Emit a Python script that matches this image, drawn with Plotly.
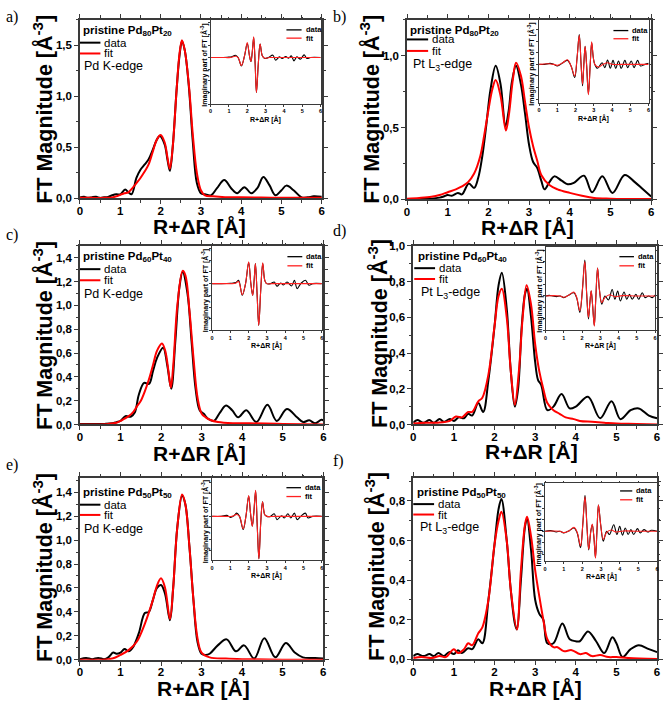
import plotly.graph_objects as go

# ---------------- DATA ----------------
x_ticks = [0, 1, 2, 3, 4, 5, 6]

# (a) pristine Pd80Pt20, Pd K-edge
a_data_x = [0, 0.1, 0.2, 0.3, 0.4, 0.5, 0.6, 0.7, 0.8, 0.9, 1.0, 1.12, 1.2, 1.28, 1.4, 1.5, 1.6, 1.7, 1.8, 1.9,
            1.98, 2.1, 2.17, 2.23, 2.3, 2.4, 2.47, 2.53, 2.6, 2.7, 2.8, 2.9, 3.0, 3.1, 3.25, 3.4, 3.58, 3.75, 3.9, 4.08,
            4.25, 4.4, 4.55, 4.7, 4.85, 5.0, 5.12, 5.3, 5.5, 5.65, 5.8, 6.0]
a_data_y = [0.01, 0.015, 0.005, 0.012, 0.015, 0.005, 0.01, 0.015, 0.03, 0.04, 0.04, 0.087, 0.06, 0.04, 0.2, 0.28, 0.33, 0.38, 0.47, 0.57,
            0.61, 0.53, 0.38, 0.27, 0.5, 1.08, 1.4, 1.54, 1.45, 1.1, 0.55, 0.15, 0.05, 0.04, 0.03, 0.1, 0.18, 0.1, 0.05, 0.11,
            0.05, 0.1, 0.21, 0.13, 0.03, 0.08, 0.125, 0.08, 0.01, 0.01, 0.02, 0.015]
a_fit_x = [0, 0.3, 0.6, 0.8, 0.9, 1.0, 1.1, 1.2, 1.3, 1.4, 1.5, 1.6, 1.7, 1.8, 1.9, 2.0, 2.1, 2.17, 2.23, 2.3,
           2.4, 2.47, 2.53, 2.6, 2.7, 2.8, 2.9, 3.0, 3.1, 3.3, 3.6, 4.0, 4.5, 5.0, 5.5, 6.0]
a_fit_y = [0.005, 0.005, 0.005, 0.01, 0.02, 0.035, 0.05, 0.06, 0.1, 0.15, 0.2, 0.26, 0.33, 0.45, 0.57, 0.62, 0.55, 0.4, 0.29, 0.5,
           1.08, 1.42, 1.55, 1.45, 1.12, 0.62, 0.25, 0.08, 0.03, 0.02, 0.012, 0.01, 0.008, 0.006, 0.005, 0.005]
a_im_data_x = [0, 0.5, 0.9, 1.15, 1.35, 1.5, 1.68, 1.85, 2.0, 2.12, 2.2, 2.27, 2.35, 2.43, 2.5, 2.6, 2.7, 2.82, 2.95, 3.15,
               3.4, 3.55, 3.75, 3.9, 4.1, 4.25, 4.4, 4.55, 4.7, 4.9, 5.1, 5.25, 5.45, 6.0]
a_im_data_y = [0, 0, 0.01, 0.02, 0.07, 0.0, -0.25, 0.05, 0.42, 0.05, -0.12, 0.15, 0.6, -0.2, -1.05, -0.2, 0.4, 0.05, -0.03, 0.0,
               0.07, -0.08, 0.02, -0.03, 0.03, -0.02, 0.05, -0.1, 0.02, -0.05, 0.08, -0.03, 0.0, 0.0]
a_im_fit_x = [0, 0.8, 1.1, 1.35, 1.5, 1.68, 1.85, 2.0, 2.12, 2.2, 2.27, 2.35, 2.43, 2.5, 2.6, 2.7, 2.82, 2.95, 3.2, 3.6, 4.5, 6.0]
a_im_fit_y = [0, 0, 0.0, 0.04, 0.0, -0.24, 0.05, 0.45, 0.05, -0.12, 0.15, 0.62, -0.2, -1.05, -0.2, 0.4, 0.05, -0.02, 0.0, 0.0, 0.0, 0.0]
a_yticks = [0.0, 0.5, 1.0, 1.5]

# (b) pristine Pd80Pt20, Pt L3-edge
b_data_x = [0, 0.3, 0.6, 0.8, 0.9, 1.0, 1.1, 1.25, 1.35, 1.52, 1.65, 1.75, 1.85, 1.95, 2.05, 2.18, 2.3, 2.42, 2.5, 2.58,
            2.68, 2.8, 2.9, 3.0, 3.1, 3.2, 3.3, 3.38, 3.5, 3.62, 3.8, 3.95, 4.1, 4.35, 4.55, 4.8, 5.05, 5.35, 5.6, 5.8, 6.0]
b_data_y = [0.0, 0.003, 0.005, 0.012, 0.02, 0.03, 0.025, 0.045, 0.035, 0.11, 0.08, 0.15, 0.3, 0.52, 0.76, 0.93, 0.8, 0.51, 0.62, 0.82,
            0.93, 0.8, 0.6, 0.38, 0.26, 0.22, 0.13, 0.07, 0.12, 0.16, 0.13, 0.105, 0.115, 0.165, 0.05, 0.16, 0.045, 0.17, 0.12, 0.07, 0.02]
b_fit_x = [0, 0.3, 0.6, 0.8, 1.0, 1.2, 1.35, 1.5, 1.65, 1.8, 1.9, 2.0, 2.1, 2.18, 2.3, 2.43, 2.5, 2.6, 2.68, 2.8,
           2.9, 3.0, 3.1, 3.2, 3.3, 3.5, 3.7, 4.0, 4.3, 4.6, 5.0, 5.5, 6.0]
b_fit_y = [0.005, 0.01, 0.018, 0.03, 0.05, 0.07, 0.09, 0.12, 0.18, 0.3, 0.45, 0.62, 0.77, 0.83, 0.72, 0.48, 0.58, 0.83, 0.95, 0.86,
           0.68, 0.5, 0.37, 0.27, 0.17, 0.1, 0.07, 0.045, 0.025, 0.01, 0.005, 0.003, 0.002]
b_im_data_x = [0, 0.3, 0.6, 0.8, 1.0, 1.3, 1.55, 1.75, 1.95, 2.08, 2.2, 2.3, 2.38, 2.45, 2.52, 2.6, 2.7, 2.8, 2.88, 2.97,
               3.05, 3.2, 3.45, 3.6, 3.75, 3.9, 4.05, 4.2, 4.35, 4.5, 4.7, 4.85, 5.05, 5.2, 5.4, 5.55, 5.8, 6.0]
b_im_data_y = [0, 0.0, 0.03, 0.0, -0.05, 0.05, 0.12, -0.05, -0.4, 0.2, 0.9, 0.0, -0.65, 0.0, 0.55, 0.0, -0.9, 0.0, 0.65, 0.2,
               0.0, -0.12, 0.05, -0.1, 0.13, -0.12, 0.12, -0.12, 0.1, -0.12, 0.12, -0.1, 0.1, -0.1, 0.12, -0.05, 0.0, 0.03]
b_im_fit_x = [0, 0.5, 0.8, 1.0, 1.3, 1.55, 1.75, 1.95, 2.08, 2.2, 2.3, 2.38, 2.45, 2.52, 2.6, 2.7, 2.8, 2.88, 2.97, 3.05,
              3.25, 3.5, 3.75, 4.0, 4.5, 5.0, 6.0]
b_im_fit_y = [0, 0.02, 0.0, -0.03, 0.05, 0.14, -0.05, -0.35, 0.2, 0.88, 0.0, -0.6, 0.0, 0.55, 0.0, -0.92, 0.0, 0.68, 0.2, 0.0,
              -0.08, 0.0, 0.05, 0.0, 0.0, 0.0, 0.0]
b_yticks = [0.0, 0.5, 1.0]

# (c) pristine Pd60Pt40, Pd K-edge
c_data_x = [0, 0.3, 0.6, 0.8, 0.9, 1.0, 1.12, 1.25, 1.35, 1.45, 1.58, 1.7, 1.8, 1.9, 2.05, 2.15, 2.25, 2.35, 2.45, 2.53,
            2.65, 2.75, 2.85, 2.95, 3.05, 3.15, 3.3, 3.45, 3.6, 3.75, 3.9, 4.1, 4.35, 4.62, 4.85, 5.1, 5.35, 5.5, 5.65, 5.8,
            5.95, 6.0]
c_data_y = [0.005, 0.003, 0.005, 0.01, 0.02, 0.03, 0.07, 0.065, 0.1, 0.25, 0.35, 0.34, 0.45, 0.56, 0.645, 0.5, 0.3, 0.7, 1.15, 1.28,
            1.1, 0.7, 0.3, 0.12, 0.09, 0.05, 0.03, 0.1, 0.16, 0.12, 0.06, 0.12, 0.02, 0.165, 0.03, 0.13, 0.06, 0.02, 0.035, 0.01,
            0.04, 0.035]
c_fit_x = [0, 0.4, 0.7, 0.9, 1.0, 1.1, 1.2, 1.3, 1.4, 1.5, 1.6, 1.7, 1.8, 1.9, 2.02, 2.1, 2.18, 2.24, 2.3, 2.4,
           2.53, 2.6, 2.7, 2.8, 2.9, 3.0, 3.1, 3.2, 3.4, 3.8, 4.2, 5.0, 6.0]
c_fit_y = [0.0, 0.0, 0.005, 0.015, 0.03, 0.05, 0.07, 0.1, 0.15, 0.2, 0.28, 0.38, 0.5, 0.62, 0.68, 0.62, 0.45, 0.31, 0.5, 1.0,
           1.29, 1.25, 0.95, 0.55, 0.22, 0.09, 0.06, 0.04, 0.02, 0.01, 0.01, 0.005, 0.0]
c_im_data_x = [0, 0.5, 1.0, 1.3, 1.45, 1.65, 1.83, 2.0, 2.12, 2.22, 2.3, 2.37, 2.46, 2.55, 2.66, 2.77, 2.88, 2.98, 3.2, 3.4,
               3.55, 3.75, 3.9, 4.1, 4.35, 4.5, 4.65, 4.85, 5.1, 5.3, 5.5, 6.0]
c_im_data_y = [0, 0, 0.01, 0.03, 0.1, -0.35, 0.0, 0.63, 0.0, -0.35, 0.1, 0.6, -0.3, -1.25, -0.2, 0.6, 0.1, 0.0, 0.0, 0.05,
               -0.08, 0.02, -0.04, 0.05, -0.07, 0.1, -0.15, 0.0, 0.1, -0.05, 0.0, 0.0]
c_im_fit_x = [0, 0.8, 1.1, 1.3, 1.45, 1.65, 1.83, 2.0, 2.12, 2.22, 2.3, 2.37, 2.46, 2.55, 2.66, 2.77, 2.88, 2.98, 3.3, 4.0,
              5.0, 6.0]
c_im_fit_y = [0, 0, 0.0, 0.02, 0.06, -0.33, 0.0, 0.65, 0.0, -0.35, 0.1, 0.6, -0.3, -1.25, -0.2, 0.62, 0.1, 0.0, 0.0, 0.0,
              0, 0]
c_yticks = [0.0, 0.2, 0.4, 0.6, 0.8, 1.0, 1.2, 1.4]

# (d) pristine Pd60Pt40, Pt L3-edge
d_data_x = [0, 0.1, 0.25, 0.4, 0.5, 0.65, 0.75, 0.9, 1.0, 1.12, 1.25, 1.35, 1.45, 1.6, 1.72, 1.85, 2.0, 2.1, 2.18, 2.3,
            2.4, 2.5, 2.58, 2.67, 2.75, 2.8, 2.9, 3.0, 3.07, 3.15, 3.3, 3.45, 3.65, 3.85, 4.0, 4.3, 4.6, 4.88, 5.1, 5.35,
            5.55, 5.8, 6.0]
d_data_y = [0.01, 0.025, 0.01, 0.025, 0.01, 0.03, 0.015, 0.03, 0.02, 0.04, 0.035, 0.06, 0.05, 0.12, 0.07, 0.25, 0.55, 0.78, 0.85, 0.65,
            0.3, 0.1, 0.2, 0.55, 0.73, 0.76, 0.6, 0.35, 0.25, 0.22, 0.08, 0.1, 0.17, 0.09, 0.1, 0.155, 0.035, 0.13, 0.03, 0.08,
            0.09, 0.05, 0.035]
d_fit_x = [0, 0.3, 0.6, 0.9, 1.05, 1.2, 1.35, 1.45, 1.6, 1.7, 1.85, 2.0, 2.1, 2.18, 2.3, 2.4, 2.5, 2.6, 2.7, 2.79,
           2.9, 3.0, 3.1, 3.2, 3.3, 3.45, 3.6, 3.75, 3.95, 4.1, 4.4, 4.7, 5.0, 5.5, 6.0]
d_fit_y = [0.005, 0.01, 0.01, 0.02, 0.045, 0.04, 0.07, 0.07, 0.13, 0.15, 0.28, 0.55, 0.72, 0.76, 0.6, 0.3, 0.11, 0.3, 0.62, 0.78,
           0.67, 0.45, 0.3, 0.2, 0.12, 0.08, 0.06, 0.04, 0.03, 0.02, 0.015, 0.01, 0.005, 0.003, 0.0]
d_im_data_x = [0, 0.2, 0.4, 0.6, 0.8, 1.0, 1.25, 1.55, 1.7, 1.88, 2.02, 2.15, 2.25, 2.35, 2.43, 2.5, 2.58, 2.67, 2.75, 2.85,
               2.95, 3.08, 3.25, 3.45, 3.65, 3.8, 3.95, 4.1, 4.3, 4.45, 4.6, 4.75, 4.95, 5.1, 5.3, 5.45, 5.65, 5.85, 6.0]
d_im_data_y = [0, 0.02, 0.0, -0.02, 0.0, -0.05, 0.02, 0.1, -0.05, -0.5, 0.2, 1.1, 0.1, -0.7, -0.2, 0.15, -0.3, -0.9, -0.1, 0.85,
               0.2, -0.25, 0.0, -0.12, 0.2, -0.1, 0.15, -0.15, 0.12, -0.1, 0.05, -0.1, 0.05, -0.1, 0.1, -0.05, 0.0, -0.05, 0.03]
d_im_fit_x = [0, 0.4, 0.8, 1.0, 1.25, 1.55, 1.7, 1.88, 2.02, 2.15, 2.25, 2.35, 2.43, 2.5, 2.58, 2.67, 2.75, 2.85, 2.95, 3.08,
              3.25, 3.5, 3.8, 4.2, 5.0, 6.0]
d_im_fit_y = [0, 0.01, 0.0, -0.04, 0.02, 0.12, -0.03, -0.45, 0.2, 1.05, 0.1, -0.65, -0.2, 0.17, -0.3, -0.92, -0.1, 0.85, 0.2, -0.2,
              -0.05, 0.04, -0.02, 0.01, 0, 0]
d_yticks = [0.0, 0.2, 0.4, 0.6, 0.8, 1.0]

# (e) pristine Pd50Pt50, Pd K-edge
e_data_x = [0, 0.15, 0.3, 0.45, 0.6, 0.7, 0.82, 0.9, 1.0, 1.1, 1.2, 1.3, 1.45, 1.6, 1.7, 1.8, 1.9, 2.0, 2.1, 2.22,
            2.3, 2.4, 2.52, 2.6, 2.7, 2.8, 2.9, 3.0, 3.1, 3.2, 3.4, 3.62, 3.85, 4.05, 4.3, 4.55, 4.82, 5.08, 5.3, 5.5,
            5.8, 6.0]
e_data_y = [0.005, 0.015, 0.005, 0.015, 0.005, 0.02, 0.06, 0.05, 0.06, 0.09, 0.07, 0.1, 0.22, 0.39, 0.4, 0.5, 0.6, 0.625, 0.55, 0.33,
            0.6, 1.1, 1.37, 1.3, 0.95, 0.5, 0.15, 0.05, 0.04, 0.05, 0.12, 0.17, 0.07, 0.12, 0.01, 0.18, 0.02, 0.14, 0.06, 0.02,
            0.015, 0.01]
e_fit_x = [0, 0.5, 0.8, 1.0, 1.2, 1.4, 1.6, 1.8, 1.9, 2.0, 2.1, 2.22, 2.3, 2.4, 2.52, 2.6, 2.7, 2.8, 2.9, 3.0,
           3.2, 3.6, 4.0, 5.0, 6.0]
e_fit_y = [0.0, 0.0, 0.01, 0.04, 0.08, 0.15, 0.3, 0.5, 0.62, 0.68, 0.6, 0.34, 0.6, 1.1, 1.38, 1.3, 0.95, 0.5, 0.18, 0.06,
           0.02, 0.01, 0.005, 0.0, 0.0]
e_im_data_x = [0, 0.5, 0.8, 1.0, 1.2, 1.35, 1.5, 1.7, 1.85, 2.0, 2.1, 2.2, 2.28, 2.38, 2.47, 2.56, 2.66, 2.76, 2.88, 3.0,
               3.2, 3.4, 3.55, 3.8, 3.95, 4.15, 4.3, 4.5, 4.65, 4.85, 5.1, 5.25, 5.5, 6.0]
e_im_data_y = [0, 0, 0.03, -0.03, 0.02, 0.1, 0.0, -0.4, 0.0, 0.62, 0.1, -0.3, 0.1, 0.78, -0.3, -1.3, -0.2, 0.45, 0.05, 0.0,
               0.0, 0.08, -0.1, 0.02, -0.05, 0.08, -0.05, 0.1, -0.1, 0.0, 0.1, -0.05, 0.0, 0.0]
e_im_fit_x = [0, 0.8, 1.1, 1.35, 1.5, 1.7, 1.85, 2.0, 2.1, 2.2, 2.28, 2.38, 2.47, 2.56, 2.66, 2.76, 2.88, 3.0, 3.4, 4.0,
              5.0, 6.0]
e_im_fit_y = [0, 0, 0.0, 0.06, 0.0, -0.38, 0.0, 0.64, 0.1, -0.3, 0.1, 0.8, -0.3, -1.3, -0.2, 0.45, 0.05, 0.0, 0, 0,
              0, 0]
e_yticks = [0.0, 0.2, 0.4, 0.6, 0.8, 1.0, 1.2, 1.4]

# (f) pristine Pd50Pt50, Pt L3-edge
f_data_x = [0, 0.1, 0.25, 0.4, 0.5, 0.62, 0.75, 0.88, 1.0, 1.1, 1.2, 1.35, 1.45, 1.6, 1.7, 1.85, 2.0, 2.1, 2.17, 2.3,
            2.4, 2.5, 2.55, 2.65, 2.75, 2.8, 2.9, 3.0, 3.1, 3.2, 3.3, 3.45, 3.67, 3.85, 4.0, 4.1, 4.3, 4.5, 4.7, 4.9,
            5.0, 5.15, 5.35, 5.55, 5.8, 6.0]
f_data_y = [0.015, 0.025, 0.015, 0.025, 0.015, 0.03, 0.015, 0.035, 0.025, 0.045, 0.03, 0.055, 0.05, 0.1, 0.08, 0.3, 0.58, 0.76, 0.81, 0.6,
            0.35, 0.18, 0.15, 0.4, 0.67, 0.71, 0.55, 0.3, 0.23, 0.2, 0.08, 0.08, 0.18, 0.1, 0.09, 0.09, 0.14, 0.09, 0.03, 0.11,
            0.08, 0.01, 0.05, 0.07, 0.05, 0.035]
f_fit_x = [0, 0.2, 0.45, 0.65, 0.8, 1.0, 1.1, 1.25, 1.35, 1.45, 1.6, 1.7, 1.85, 2.0, 2.1, 2.17, 2.3, 2.4, 2.55, 2.65,
           2.75, 2.8, 2.9, 3.0, 3.1, 3.2, 3.3, 3.45, 3.55, 3.7, 3.9, 4.1, 4.25, 4.4, 4.6, 4.8, 5.0, 5.3, 6.0]
f_fit_y = [0.005, 0.01, 0.005, 0.015, 0.01, 0.05, 0.03, 0.05, 0.08, 0.07, 0.13, 0.16, 0.3, 0.58, 0.7, 0.745, 0.6, 0.35, 0.15, 0.45,
           0.68, 0.72, 0.62, 0.45, 0.32, 0.2, 0.1, 0.06, 0.06, 0.04, 0.045, 0.025, 0.03, 0.015, 0.02, 0.01, 0.01, 0.005, 0.0]
f_im_data_x = [0, 0.3, 0.6, 0.8, 1.0, 1.3, 1.55, 1.72, 1.9, 2.02, 2.14, 2.25, 2.34, 2.45, 2.53, 2.62, 2.7, 2.78, 2.86, 2.98,
               3.12, 3.3, 3.45, 3.68, 3.85, 4.0, 4.15, 4.3, 4.45, 4.6, 4.75, 4.95, 5.1, 5.3, 5.5, 5.7, 6.0]
f_im_data_y = [0, 0.02, -0.02, 0.0, -0.05, 0.02, 0.1, -0.05, -0.5, 0.2, 1.1, 0.1, -0.57, 0.0, 0.2, -0.2, -0.8, 0.0, 0.8, 0.2,
               -0.3, 0.0, -0.1, 0.2, -0.1, 0.15, -0.12, 0.1, -0.1, 0.05, -0.1, 0.08, -0.05, 0.05, -0.02, 0.03, 0.0]
f_im_fit_x = [0, 0.4, 0.8, 1.0, 1.3, 1.55, 1.72, 1.9, 2.02, 2.14, 2.25, 2.34, 2.45, 2.53, 2.62, 2.7, 2.78, 2.86, 2.98, 3.12,
              3.3, 3.55, 3.8, 4.2, 5.0, 6.0]
f_im_fit_y = [0, 0.01, 0.0, -0.04, 0.02, 0.12, -0.03, -0.45, 0.2, 1.05, 0.1, -0.55, 0.0, 0.22, -0.2, -0.82, 0.0, 0.8, 0.2, -0.25,
              -0.03, 0.04, -0.02, 0.01, 0, 0]
f_yticks = [0.0, 0.2, 0.4, 0.6, 0.8]

panel_letters = ["a)", "b)", "c)", "d)", "e)", "f)"]
sample_names = ["pristine Pd<sub>80</sub>Pt<sub>20</sub>", "pristine Pd<sub>80</sub>Pt<sub>20</sub>",
                "pristine Pd<sub>60</sub>Pt<sub>40</sub>", "pristine Pd<sub>60</sub>Pt<sub>40</sub>",
                "pristine Pd<sub>50</sub>Pt<sub>50</sub>", "pristine Pd<sub>50</sub>Pt<sub>50</sub>"]
edge_names = ["Pd K-edge", "Pt L<sub>3</sub>-edge", "Pd K-edge", "Pt L<sub>3</sub>-edge",
              "Pd K-edge", "Pt L<sub>3</sub>-edge"]
series_names = ["data", "fit"]
main_x_title = "R+ΔR [Å]"
main_y_title = "FT Magnitude [Å<sup>-3</sup>]"
inset_y_title = "Imaginary part of FT [Å<sup>-3</sup>]"

# ---------------- LAYOUT / STYLE ----------------
W, H = 665, 708
def px(x): return x / W
def py(y): return 1 - y / H

panels = [
    dict(d=(a_data_x, a_data_y), f=(a_fit_x, a_fit_y), di=(a_im_data_x, a_im_data_y), fi=(a_im_fit_x, a_im_fit_y),
         yt=a_yticks, yr=[0, 1.75], ym=0.25, iyr=[-1.4, 1.13],
         box=(77.7, 14, 321.7, 195.7), ibox=(209.5, 14, 320.5, 100),
         lab=(1, 11), ytl=(41, 105), xtl=(198, 224), iyl=203.5,
         leg=(79, 25, 37.3, 48.3, 61, 77.7, 98.3), ileg=(286, 301.3, 24.3, 32.7)),
    dict(d=(b_data_x, b_data_y), f=(b_fit_x, b_fit_y), di=(b_im_data_x, b_im_data_y), fi=(b_im_fit_x, b_im_fit_y),
         yt=b_yticks, yr=[0, 1.25], ym=0.25, iyr=[-1.18, 1.35],
         box=(407.7, 14, 654, 196.7), ibox=(541, 14, 651.5, 99),
         lab=(331, 11), ytl=(371, 105), xtl=(529, 225), iyl=533,
         leg=(409, 25, 34, 45.7, 60, 407.7, 429), ileg=(616, 631, 25, 33.3)),
    dict(d=(c_data_x, c_data_y), f=(c_fit_x, c_fit_y), di=(c_im_data_x, c_im_data_y), fi=(c_im_fit_x, c_im_fit_y),
         yt=c_yticks, yr=[0, 1.5], ym=0.1, iyr=[-1.4, 1.13],
         box=(77.7, 244, 323.3, 425.7), ibox=(211, 244, 321.7, 330),
         lab=(1, 233), ytl=(41, 335), xtl=(198, 455), iyl=204,
         leg=(79, 255, 267.7, 279, 293.3, 77.7, 98.3), ileg=(287, 302, 255, 264.3)),
    dict(d=(d_data_x, d_data_y), f=(d_fit_x, d_fit_y), di=(d_im_data_x, d_im_data_y), fi=(d_im_fit_x, d_im_fit_y),
         yt=d_yticks, yr=[0, 1.0], ym=0.1, iyr=[-1.05, 1.5],
         box=(414, 244, 660, 425.7), ibox=(547.5, 245, 658, 330),
         lab=(331, 229), ytl=(379, 333), xtl=(533.5, 453), iyl=541,
         leg=(417, 255, 266.7, 277.7, 291.7, 415, 436), ileg=(622, 636.7, 255, 264.3)),
    dict(d=(e_data_x, e_data_y), f=(e_fit_x, e_fit_y), di=(e_im_data_x, e_im_data_y), fi=(e_im_fit_x, e_im_fit_y),
         yt=e_yticks, yr=[0, 1.52], ym=0.1, iyr=[-1.35, 1.18],
         box=(77.7, 480, 323, 665), ibox=(211, 480, 321.7, 564),
         lab=(1, 467), ytl=(41, 571), xtl=(202, 694), iyl=204,
         leg=(79, 495.7, 507.3, 517.7, 531.7, 77.7, 98.3), ileg=(286, 300.7, 490, 499)),
    dict(d=(f_data_x, f_data_y), f=(f_fit_x, f_fit_y), di=(f_im_data_x, f_im_data_y), fi=(f_im_fit_x, f_im_fit_y),
         yt=f_yticks, yr=[0, 0.917], ym=0.1, iyr=[-0.92, 1.46],
         box=(414, 480, 660, 664.3), ibox=(547, 485.7, 660, 565),
         lab=(331, 463), ytl=(376, 570), xtl=(537, 694), iyl=540,
         leg=(416, 495, 506.7, 517.3, 531, 414, 435), ileg=(622.7, 635, 493.3, 502.3)),
]

AX = '#3a3a3a'
FONT = 'Liberation Sans, Arial, sans-serif'
fig = go.Figure()
layout = dict(width=W, height=H, margin=dict(l=0, r=0, t=0, b=0), autosize=False,
              paper_bgcolor='white', plot_bgcolor='white', showlegend=False, separators=',.',
              font=dict(family=FONT, color='black'))
annotations, shapes = [], []

for i, p in enumerate(panels):
    mi, ii = 2 * i + 1, 2 * i + 2
    mx = 'x' if mi == 1 else f'x{mi}'
    my = 'y' if mi == 1 else f'y{mi}'
    ix, iy = f'x{ii}', f'y{ii}'
    x0, y0, x1, y1 = p['box']
    layout['xaxis' if mi == 1 else f'xaxis{mi}'] = dict(
        domain=[px(x0), px(x1)], anchor=my, range=[0, 6], tickvals=x_ticks, ticktext=[str(t) for t in x_ticks],
        showline=True, linecolor=AX, linewidth=1.6, mirror='ticks', ticks='outside', ticklen=4, tickwidth=1.2,
        tickcolor=AX, showgrid=False, zeroline=False, ticklabeloverflow='allow', ticklabelstandoff=-3,
        tickfont=dict(family=FONT, size=11.5, color='black', weight='bold'),
        minor=dict(dtick=0.5, tick0=0, ticks='outside', ticklen=2.5, tickwidth=1, tickcolor=AX))
    layout['yaxis' if mi == 1 else f'yaxis{mi}'] = dict(
        domain=[py(y1), py(y0)], anchor=mx, range=p['yr'], tickvals=p['yt'], tickformat='.1f',
        showline=True, linecolor=AX, linewidth=1.6, mirror='ticks', ticks='outside', ticklen=4, tickwidth=1.2,
        tickcolor=AX, showgrid=False, zeroline=False,
        tickfont=dict(family=FONT, size=11.5, color='black', weight='bold'),
        minor=dict(dtick=p['ym'], tick0=0, ticks='outside', ticklen=2.5, tickwidth=1, tickcolor=AX))
    X0, Y0, X1, Y1 = p['ibox']
    layout[f'xaxis{ii}'] = dict(
        domain=[px(X0), px(X1)], anchor=iy, range=[0, 6], tickvals=x_ticks, ticktext=[str(t) for t in x_ticks],
        showline=True, linecolor=AX, linewidth=1, mirror='ticks', ticks='outside', ticklen=1.5, tickwidth=0.8,
        tickcolor=AX, showgrid=False, zeroline=False, ticklabeloverflow='allow',
        tickfont=dict(family=FONT, size=5.5, color='black', weight='bold'))
    layout[f'yaxis{ii}'] = dict(
        domain=[py(Y1), py(Y0)], anchor=ix, range=p['iyr'], dtick=0.35, tick0=0, showticklabels=False,
        showline=True, linecolor=AX, linewidth=1, mirror='ticks', ticks='outside', ticklen=2, tickwidth=0.8,
        tickcolor=AX, showgrid=False, zeroline=False)

    fig.add_trace(go.Scatter(x=p['d'][0], y=p['d'][1], xaxis=mx, yaxis=my, mode='lines', name=series_names[0],
                             line=dict(color='black', width=2.0, shape='spline', smoothing=1.0)))
    fig.add_trace(go.Scatter(x=p['f'][0], y=p['f'][1], xaxis=mx, yaxis=my, mode='lines', name=series_names[1],
                             line=dict(color='#ff0000', width=2.0, shape='spline', smoothing=1.0)))
    fig.add_trace(go.Scatter(x=p['di'][0], y=p['di'][1], xaxis=ix, yaxis=iy, mode='lines', name=series_names[0],
                             line=dict(color='black', width=1.1, shape='spline', smoothing=1.0)))
    fig.add_trace(go.Scatter(x=p['fi'][0], y=p['fi'][1], xaxis=ix, yaxis=iy, mode='lines', name=series_names[1],
                             line=dict(color='#ff2020', width=1.1, shape='spline', smoothing=1.0)))

    # panel letter
    annotations.append(dict(x=px(p['lab'][0]), y=py(p['lab'][1]), xref='paper', yref='paper', text=panel_letters[i],
                            showarrow=False, xanchor='left', yanchor='middle',
                            font=dict(family='Liberation Serif, Times New Roman, serif', size=16, color='black')))
    # axis titles
    annotations.append(dict(x=px(p['ytl'][0]), y=py(p['ytl'][1]), xref='paper', yref='paper', text=main_y_title,
                            textangle=-90, showarrow=False, xanchor='center', yanchor='middle',
                            font=dict(family=FONT, size=21.5, color='black', weight='bold')))
    annotations.append(dict(x=px(p['xtl'][0]), y=py(p['xtl'][1]), xref='paper', yref='paper', text=main_x_title,
                            showarrow=False, xanchor='center', yanchor='middle',
                            font=dict(family=FONT, size=21, color='black', weight='bold')))
    # legend block
    lx, ly_t, ly_d, ly_f, ly_e, sx0, sx1 = p['leg']
    annotations.append(dict(x=px(lx), y=py(ly_t), xref='paper', yref='paper', text=sample_names[i],
                            showarrow=False, xanchor='left', yanchor='middle',
                            font=dict(family=FONT, size=11.5, color='black', weight='bold')))
    for yy, nm, col in ((ly_d, series_names[0], 'black'), (ly_f, series_names[1], '#ff0000')):
        shapes.append(dict(type='line', xref='paper', yref='paper', x0=px(sx0), x1=px(sx1), y0=py(yy), y1=py(yy),
                           line=dict(color=col, width=2)))
        annotations.append(dict(x=px(sx1 + 2), y=py(yy), xref='paper', yref='paper', text=nm,
                                showarrow=False, xanchor='left', yanchor='middle',
                                font=dict(family=FONT, size=11.5, color='black')))
    annotations.append(dict(x=px(lx + 1 if i % 2 == 0 else lx + 3), y=py(ly_e), xref='paper', yref='paper',
                            text=edge_names[i], showarrow=False, xanchor='left', yanchor='middle',
                            font=dict(family=FONT, size=12.5, color='black')))
    # inset titles and legend
    annotations.append(dict(x=px((X0 + X1) / 2), y=py(Y1 + 15), xref='paper', yref='paper', text=main_x_title,
                            showarrow=False, xanchor='center', yanchor='middle',
                            font=dict(family=FONT, size=7, color='black', weight='bold')))
    annotations.append(dict(x=px(p['iyl']), y=py((Y0 + Y1) / 2 + 3), xref='paper', yref='paper', text=inset_y_title,
                            textangle=-90, showarrow=False, xanchor='center', yanchor='middle',
                            font=dict(family=FONT, size=7, color='black', weight='bold')))
    ix0, ix1, iyd, iyf = p['ileg']
    for yy, nm, col in ((iyd, series_names[0], 'black'), (iyf, series_names[1], '#ff2020')):
        shapes.append(dict(type='line', xref='paper', yref='paper', x0=px(ix0), x1=px(ix1), y0=py(yy), y1=py(yy),
                           line=dict(color=col, width=1.3)))
        annotations.append(dict(x=px(ix1 + 2), y=py(yy), xref='paper', yref='paper', text=nm,
                                showarrow=False, xanchor='left', yanchor='middle',
                                font=dict(family=FONT, size=7.5, color='black', weight='bold')))

layout['annotations'] = annotations
layout['shapes'] = shapes
fig.update_layout(**layout)
fig.write_html("out.html", config={'displayModeBar': False},
               post_script="document.body.style.margin='0';document.body.style.overflow='hidden';")
